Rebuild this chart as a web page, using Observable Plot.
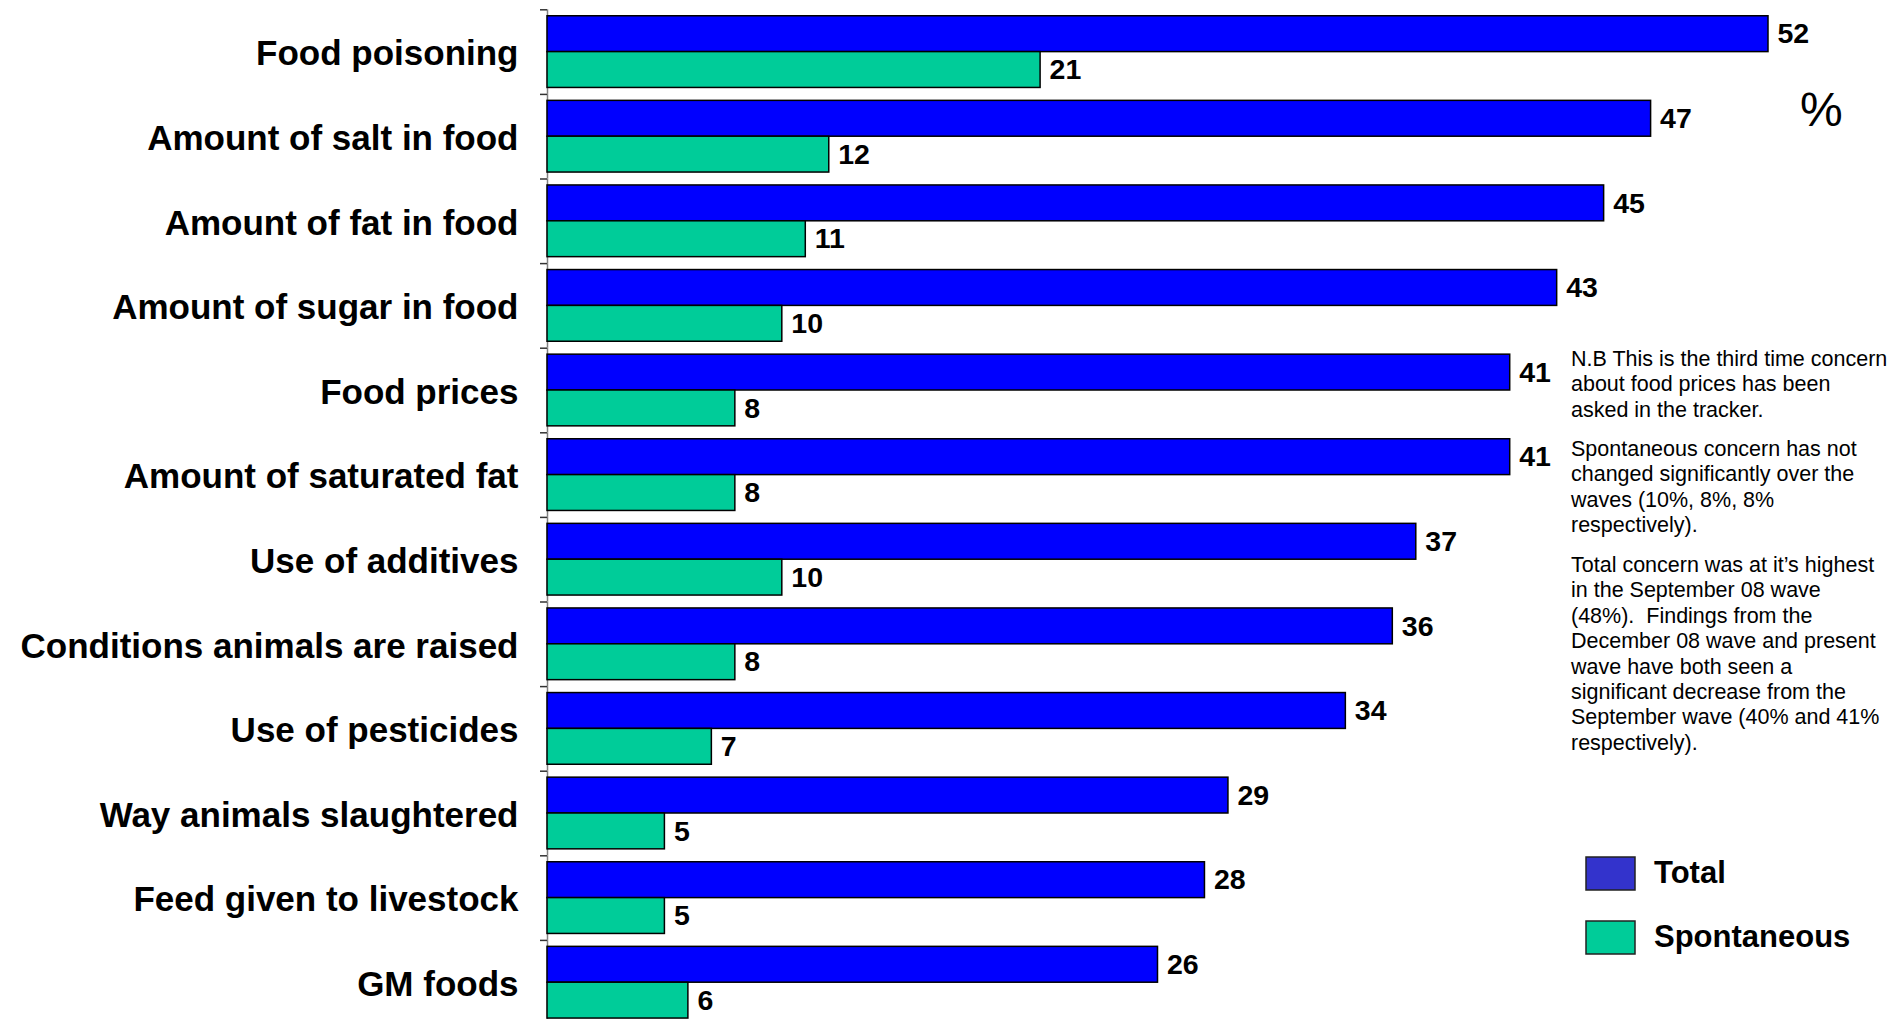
<!DOCTYPE html>
<html><head><meta charset="utf-8">
<script src="https://cdn.jsdelivr.net/npm/d3@7"></script>
<script src="https://cdn.jsdelivr.net/npm/@observablehq/plot@0.6"></script>
<style>
html,body{margin:0;padding:0;background:#fff;overflow:hidden;}
#wrap{position:relative;width:1903px;height:1019px;overflow:hidden;}
#chart{position:absolute;left:0;top:0;}
#overlay{position:absolute;left:0;top:0;}
</style></head><body>
<div id="wrap"><div id="chart"></div><svg id="overlay" width="1903" height="1019"></svg></div>
<script>
const categories = [
  "Food poisoning", "Amount of salt in food", "Amount of fat in food", "Amount of sugar in food",
  "Food prices", "Amount of saturated fat", "Use of additives", "Conditions animals are raised",
  "Use of pesticides", "Way animals slaughtered", "Feed given to livestock", "GM foods"
];
const totalValues = [52, 47, 45, 43, 41, 41, 37, 36, 34, 29, 28, 26];
const spontaneousValues = [21, 12, 11, 10, 8, 8, 10, 8, 7, 5, 5, 6];
const seriesNames = ["Total", "Spontaneous"];
const seriesColors = ["#0000FF", "#00CC99"];
const legendColors = ["#3333CC", "#00CC99"];
const unitLabel = "%";
const notes = [
  ["N.B This is the third time concern", "about food prices has been", "asked in the tracker."],
  ["Spontaneous concern has not", "changed significantly over the", "waves (10%, 8%, 8%", "respectively)."],
  ["Total concern was at it\u2019s highest", "in the September 08 wave", "(48%).  Findings from the", "December 08 wave and present", "wave have both seen a", "significant decrease from the", "September wave (40% and 41%", "respectively)."]
];

const data = categories.flatMap((c, i) => [
  {category: c, series: seriesNames[0], value: totalValues[i]},
  {category: c, series: seriesNames[1], value: spontaneousValues[i]}
]);

const boundaryTick = (index, scales, values, dimensions) => {
  const {marginLeft, marginTop} = dimensions;
  const line = document.createElementNS("http://www.w3.org/2000/svg", "line");
  line.setAttribute("x1", marginLeft - 7);
  line.setAttribute("x2", marginLeft);
  line.setAttribute("y1", marginTop + 0.5);
  line.setAttribute("y2", marginTop + 0.5);
  line.setAttribute("stroke", "#333");
  line.setAttribute("stroke-width", 1.5);
  return line;
};

const chart = Plot.plot({
  width: 1903, height: 1024.5,
  marginLeft: 547, marginRight: 135, marginTop: 9.3, marginBottom: 0,
  style: {fontFamily: "'Liberation Sans', Arial, sans-serif", background: "white", overflow: "visible"},
  x: {domain: [0, 52], axis: null},
  y: {domain: seriesNames, paddingInner: 0, paddingOuter: 0.18, round: false, axis: null},
  fy: {domain: categories, paddingInner: 0, paddingOuter: 0, round: false, axis: null},
  color: {domain: seriesNames, range: seriesColors},
  marks: [
    Plot.ruleX([0], {stroke: "#808080", strokeWidth: 1.5}),
    boundaryTick,
    Plot.barX(data, {x: "value", y: "series", fy: "category", fill: "series", stroke: "black", strokeWidth: 1.5}),
    Plot.text(data, {x: "value", y: "series", fy: "category", text: d => String(d.value), textAnchor: "start", dx: 9, fontSize: 28.5, fontWeight: "bold", fill: "black"}),
    Plot.axisFy({anchor: "left", tickSize: 0, tickPadding: 29, fontSize: 35, fontWeight: "bold", label: null, dy: 2})
  ]
});
document.getElementById("chart").appendChild(chart);

const ov = d3.select("#overlay").style("font-family", "'Liberation Sans', Arial, sans-serif");
ov.append("text").attr("x", 1800).attr("y", 126).attr("font-size", 48).text(unitLabel);

const paraStarts = [366, 456, 572];
const lineH = 25.4;
notes.forEach((lines, p) => {
  lines.forEach((t, k) => {
    ov.append("text").attr("x", 1571).attr("y", paraStarts[p] + k * lineH)
      .attr("font-size", 21.5).attr("fill", "#000").style("white-space", "pre").text(t);
  });
});

const legendY = [857, 921];
seriesNames.forEach((s, i) => {
  ov.append("rect").attr("x", 1586).attr("y", legendY[i]).attr("width", 49).attr("height", 33)
    .attr("fill", legendColors[i]).attr("stroke", "#222").attr("stroke-width", 1.5);
  ov.append("text").attr("x", 1654).attr("y", legendY[i] + 26).attr("font-size", 31)
    .attr("font-weight", "bold").text(s);
});
</script>
</body></html>
